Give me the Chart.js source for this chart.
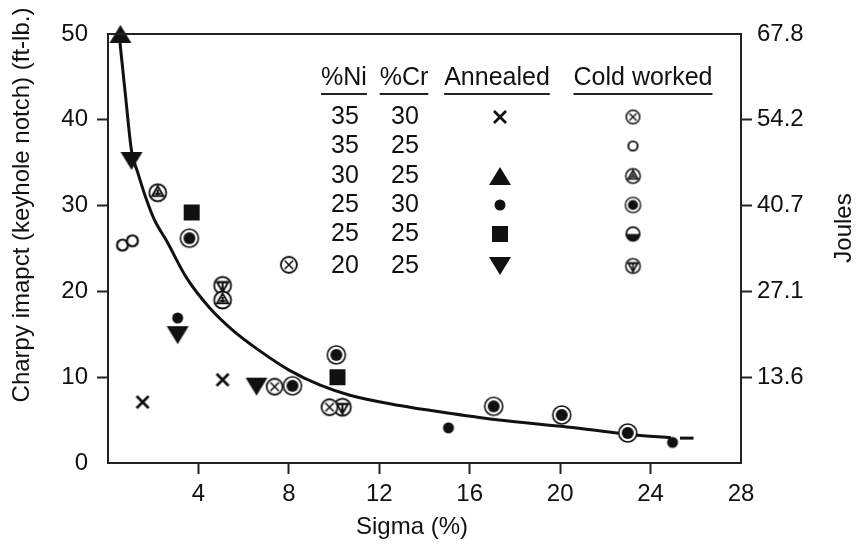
<!DOCTYPE html>
<html>
<head>
<meta charset="utf-8">
<script src="https://cdn.jsdelivr.net/npm/chart.js@4.4.1/dist/chart.umd.min.js"></script>
<style>
  html, body { margin: 0; padding: 0; background: #fff; }
</style>
</head>
<body>
<canvas id="myChart" width="858" height="549"></canvas>
<script>
const FONT = '"Liberation Sans", Arial, Helvetica, sans-serif';

// axis ticks
const xTicks = [0, 4, 8, 12, 16, 20, 24, 28];
const ftlbTicks = [0, 10, 20, 30, 40, 50];
const jouleTicks = [10, 20, 30, 40, 50];
const jouleLabels = ['13.6', '27.1', '40.7', '54.2', '67.8'];

// legend table
const niPct = ['35', '35', '30', '25', '25', '20'];
const crPct = ['30', '25', '25', '30', '25', '25'];

// annealed: [sigma %, charpy ft-lb]
const ann35Ni30Cr = [[1.53, 7.1], [5.07, 9.7]];
const ann35Ni25Cr = [];
const ann30Ni25Cr = [[0.55, 50]];
const ann25Ni30Cr = [[3.08, 16.9], [15.06, 4.1], [24.97, 2.4]];
const ann25Ni25Cr = [[3.7, 29.2], [10.15, 10.0]];
const ann20Ni25Cr = [[1.04, 35.2], [3.08, 14.9], [6.57, 8.9]];

// cold worked
const cw35Ni30Cr = [[8.0, 23.1], [7.37, 8.9], [9.8, 6.5]];
const cw35Ni25Cr = [[0.64, 25.4], [1.08, 25.9]];
const cw30Ni25Cr = [[2.2, 31.5], [5.07, 19.0]];
const cw25Ni30Cr = [[3.6, 26.2], [8.16, 9.0], [10.1, 12.6], [17.06, 6.6], [20.07, 5.6], [22.99, 3.5]];
const cw25Ni25Cr = [];
const cw20Ni25Cr = [[5.07, 20.7], [10.37, 6.5]];

// trend curve
const curveX = [0.51, 0.77, 1.04, 1.31, 1.70, 2.06, 2.59, 3.47, 4.49, 5.51, 6.70, 8.03, 9.36, 10.7, 12.9, 15.1, 17.3, 20.3, 23.2, 24.9];
const curveY = [49.5, 42.9, 36.4, 33.9, 30.7, 28.3, 25.9, 21.6, 18.1, 15.5, 13.1, 10.8, 9.1, 7.9, 6.7, 5.8, 5.0, 4.2, 3.3, 2.95];
const tailX = [25.3, 25.9];
const tailY = [2.9, 2.9];

// marker glyphs drawn on small canvases
function mk(kind, s) {
  s = s || 1;
  const c = document.createElement('canvas');
  c.width = c.height = Math.ceil(26 * s);
  const g = c.getContext('2d');
  g.translate(c.width / 2, c.height / 2);
  g.scale(s, s);
  g.strokeStyle = '#111';
  g.fillStyle = '#111';
  const circ = (r, lw) => {
    g.beginPath(); g.arc(0, 0, r, 0, Math.PI * 2);
    g.fillStyle = '#fff'; g.fill();
    g.lineWidth = lw; g.stroke();
    g.fillStyle = '#111';
  };
  const tri = (up, w, h) => {
    g.beginPath();
    if (up) { g.moveTo(0, -h / 2); g.lineTo(w / 2, h / 2); g.lineTo(-w / 2, h / 2); }
    else { g.moveTo(0, h / 2); g.lineTo(w / 2, -h / 2); g.lineTo(-w / 2, -h / 2); }
    g.closePath(); g.fill();
  };
  switch (kind) {
    case 'x':
      g.lineWidth = 2.8;
      g.beginPath(); g.moveTo(-6, -6); g.lineTo(6, 6); g.moveTo(6, -6); g.lineTo(-6, 6); g.stroke();
      break;
    case 'triUp': tri(true, 22, 18); break;
    case 'triDown': tri(false, 22, 18); break;
    case 'dot': g.beginPath(); g.arc(0, 0, 5.5, 0, Math.PI * 2); g.fill(); break;
    case 'square': g.fillRect(-8, -8, 16, 16); break;
    case 'otimes':
      circ(8, 1.8);
      g.lineWidth = 1.6;
      g.beginPath(); g.moveTo(-4.2, -4.2); g.lineTo(4.2, 4.2); g.moveTo(4.2, -4.2); g.lineTo(-4.2, 4.2); g.stroke();
      break;
    case 'ring': circ(5.5, 2.2); break;
    case 'circTri':
      circ(8.5, 1.8);
      g.lineWidth = 2;
      g.beginPath(); g.moveTo(0, -6.5); g.lineTo(5.6, 3.3); g.lineTo(-5.6, 3.3); g.closePath(); g.stroke();
      g.beginPath(); g.moveTo(0, -3); g.lineTo(0, 0); g.lineTo(2.6, 1.5); g.moveTo(0, 0); g.lineTo(-2.6, 1.5); g.stroke();
      break;
    case 'bull':
      circ(9, 1.6);
      g.beginPath(); g.arc(0, 0, 6, 0, Math.PI * 2); g.fill();
      break;
    case 'half':
      circ(8, 2);
      g.beginPath(); g.arc(0, 0, 8, 0, Math.PI); g.closePath(); g.fill();
      break;
    case 'circTriDown':
      circ(8.5, 1.8);
      g.lineWidth = 2;
      g.beginPath(); g.moveTo(0, 6.5); g.lineTo(5.6, -3.3); g.lineTo(-5.6, -3.3); g.closePath(); g.stroke();
      g.beginPath(); g.moveTo(-5, -3.3); g.lineTo(5, -3.3); g.moveTo(0, -3.3); g.lineTo(0, 4); g.stroke();
      break;
  }
  return c;
}

const toPts = arr => arr.map(p => ({ x: p[0], y: p[1] }));
function markerSet(label, arr, kind) {
  return {
    type: 'scatter', label, data: toPts(arr),
    pointStyle: mk(kind), pointRadius: 8, clip: false, order: 0
  };
}

const annealedKinds = ['x', null, 'triUp', 'dot', 'square', 'triDown'];
const coldKinds = ['otimes', 'ring', 'circTri', 'bull', 'half', 'circTriDown'];

const legendTable = {
  id: 'legendTable',
  afterDraw(chart) {
    const ctx = chart.ctx;
    const a = chart.chartArea;
    ctx.save();
    // frame
    ctx.strokeStyle = '#222';
    ctx.lineWidth = 2;
    ctx.strokeRect(a.left, a.top, a.right - a.left, a.bottom - a.top);

    ctx.fillStyle = '#111';
    ctx.font = '25px ' + FONT;
    ctx.textAlign = 'center';
    ctx.textBaseline = 'middle';
    const heads = [['%Ni', 344], ['%Cr', 404], ['Annealed', 497], ['Cold worked', 643]];
    heads.forEach(h => {
      ctx.fillText(h[0], h[1], 78);
      const w = ctx.measureText(h[0]).width;
      ctx.beginPath();
      ctx.moveTo(h[1] - w / 2, 94); ctx.lineTo(h[1] + w / 2, 94);
      ctx.lineWidth = 2; ctx.stroke();
    });
    const rows = [117, 146, 176, 205, 234, 266];
    rows.forEach((y, i) => {
      ctx.fillText(niPct[i], 345, y);
      ctx.fillText(crPct[i], 405, y);
      if (annealedKinds[i]) {
        const m = mk(annealedKinds[i]);
        ctx.drawImage(m, 500 - m.width / 2, y - m.height / 2);
      }
      const c = mk(coldKinds[i], 0.85);
      ctx.drawImage(c, 633 - c.width / 2, y - c.height / 2);
    });

    // axis titles
    ctx.font = '24px ' + FONT;
    ctx.fillText('Sigma (%)', 412, 527);
    ctx.save();
    ctx.translate(22, 205);
    ctx.rotate(-Math.PI / 2);
    ctx.fillText('Charpy imapct (keyhole notch) (ft-lb.)', 0, 0);
    ctx.restore();
    ctx.save();
    ctx.translate(844, 228);
    ctx.rotate(-Math.PI / 2);
    ctx.fillText('Joules', 0, 0);
    ctx.restore();
    ctx.restore();
  }
};

const hideEnds = (lo, hi) => c => (c.tick && (c.tick.value === lo || c.tick.value === hi)) ? 'rgba(0,0,0,0)' : '#222';

new Chart(document.getElementById('myChart'), {
  type: 'scatter',
  data: {
    datasets: [
      {
        type: 'line', label: 'trend', data: curveX.map((x, i) => ({ x, y: curveY[i] })),
        borderColor: '#111', borderWidth: 3, pointRadius: 0, cubicInterpolationMode: 'monotone',
        fill: false, order: 10
      },
      {
        type: 'line', label: 'trend tail', data: tailX.map((x, i) => ({ x, y: tailY[i] })),
        borderColor: '#111', borderWidth: 3, pointRadius: 0, fill: false, order: 10
      },
      markerSet('Annealed 35Ni 30Cr', ann35Ni30Cr, 'x'),
      markerSet('Annealed 35Ni 25Cr', ann35Ni25Cr, 'x'),
      markerSet('Annealed 30Ni 25Cr', ann30Ni25Cr, 'triUp'),
      markerSet('Annealed 25Ni 30Cr', ann25Ni30Cr, 'dot'),
      markerSet('Annealed 25Ni 25Cr', ann25Ni25Cr, 'square'),
      markerSet('Annealed 20Ni 25Cr', ann20Ni25Cr, 'triDown'),
      markerSet('Cold worked 35Ni 30Cr', cw35Ni30Cr, 'otimes'),
      markerSet('Cold worked 35Ni 25Cr', cw35Ni25Cr, 'ring'),
      markerSet('Cold worked 30Ni 25Cr', cw30Ni25Cr, 'circTri'),
      markerSet('Cold worked 25Ni 30Cr', cw25Ni30Cr, 'bull'),
      markerSet('Cold worked 25Ni 25Cr', cw25Ni25Cr, 'half'),
      markerSet('Cold worked 20Ni 25Cr', cw20Ni25Cr, 'circTriDown')
    ]
  },
  options: {
    responsive: false,
    animation: false,
    devicePixelRatio: 1,
    layout: { padding: { top: 34, left: 0, right: 0, bottom: 0 } },
    plugins: { legend: { display: false }, tooltip: { enabled: false } },
    events: [],
    scales: {
      x: {
        type: 'linear', position: 'bottom', min: 0, max: 28,
        afterBuildTicks: s => { s.ticks = xTicks.map(v => ({ value: v })); },
        afterFit: s => { s.height = 86; },
        ticks: {
          callback: v => v === 0 ? '' : String(v),
          font: { family: FONT, size: 24 }, color: '#111', padding: 6,
          maxRotation: 0, autoSkip: false
        },
        grid: { drawOnChartArea: false, tickLength: 11, tickWidth: 2, tickColor: hideEnds(0, 28) },
        border: { color: '#222', width: 2 }
      },
      y: {
        type: 'linear', position: 'left', min: 0, max: 50,
        afterBuildTicks: s => { s.ticks = ftlbTicks.map(v => ({ value: v })); },
        afterFit: s => { s.width = 108; },
        ticks: { font: { family: FONT, size: 24 }, color: '#111', padding: 9 },
        grid: { drawOnChartArea: false, tickLength: 11, tickWidth: 2, tickColor: hideEnds(0, 50) },
        border: { color: '#222', width: 2 }
      },
      y2: {
        type: 'linear', position: 'right', min: 0, max: 50,
        afterBuildTicks: s => { s.ticks = jouleTicks.map(v => ({ value: v })); },
        afterFit: s => { s.width = 117; },
        ticks: {
          callback: (v, i) => jouleLabels[i],
          font: { family: FONT, size: 24 }, color: '#111', padding: 5
        },
        grid: { drawOnChartArea: false, tickLength: 11, tickWidth: 2, tickColor: hideEnds(0, 50) },
        border: { color: '#222', width: 2 }
      }
    }
  },
  plugins: [legendTable]
});
</script>
</body>
</html>
